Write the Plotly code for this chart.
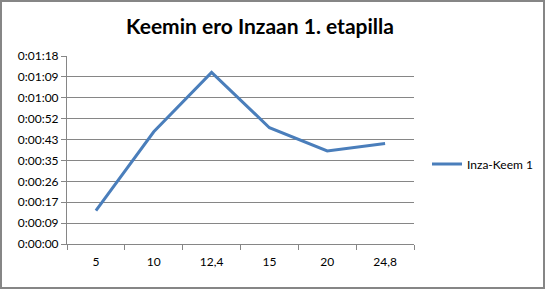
import plotly.graph_objects as go

categories = ["5", "10", "12,4", "15", "20", "24,8"]
values_sec = [13.8, 46.4, 71.0, 48.1, 38.5, 41.6]
series_name = "Inza-Keem 1"
tick_vals = [0, 8.64, 17.28, 25.92, 34.56, 43.2, 51.84, 60.48, 69.12, 77.76]
tick_text = ["0:00:00", "0:00:09", "0:00:17", "0:00:26", "0:00:35",
             "0:00:43", "0:00:52", "0:01:00", "0:01:09", "0:01:18"]

FONT = "Lato, Carlito, Calibri, sans-serif"
GRID = "#868686"
PW, PH = 347, 188  # plot area size in px

fig = go.Figure()
fig.add_trace(go.Scatter(
    x=categories, y=values_sec, mode="lines", name=series_name,
    line=dict(color="#4a7ebb", width=3),
))

fig.update_layout(
    width=545, height=289,
    margin=dict(l=67, r=131, t=56, b=45, autoexpand=False),
    paper_bgcolor="white", plot_bgcolor="white",
    font=dict(family=FONT, size=12, color="black"),
    title=dict(text="<b>Keemin ero Inzaan 1. etapilla</b>",
               x=260/545, xanchor="center", y=1-27/289, yanchor="middle",
               font=dict(family=FONT, size=21, color="black")),
    showlegend=True,
    legend=dict(x=(427-67)/PW, xanchor="left", y=(244-164)/PH,
                yanchor="middle", font=dict(size=12), itemwidth=30,
                bgcolor="rgba(0,0,0,0)"),
    xaxis=dict(type="category", range=[-0.5, 5.5], showgrid=False,
               showline=True, linecolor=GRID, linewidth=1,
               ticks="outside", tickson="boundaries", ticklen=5, tickcolor=GRID,
               tickfont=dict(size=12), ticklabelstandoff=7),
    yaxis=dict(range=[0, 77.76], tickvals=tick_vals, ticktext=tick_text,
               showgrid=True, gridcolor=GRID, gridwidth=1,
               showline=True, linecolor=GRID, linewidth=1,
               ticks="outside", ticklen=5, tickcolor=GRID,
               zeroline=False, tickfont=dict(size=12)),
    shapes=[dict(type="rect", xref="paper", yref="paper",
                 x0=-66/PW, x1=1 + 130/PW, y0=-44/PH, y1=1 + 55/PH,
                 line=dict(color="#868686", width=2), fillcolor="rgba(0,0,0,0)",
                 layer="below")],
)

fig.write_html("out.html")
